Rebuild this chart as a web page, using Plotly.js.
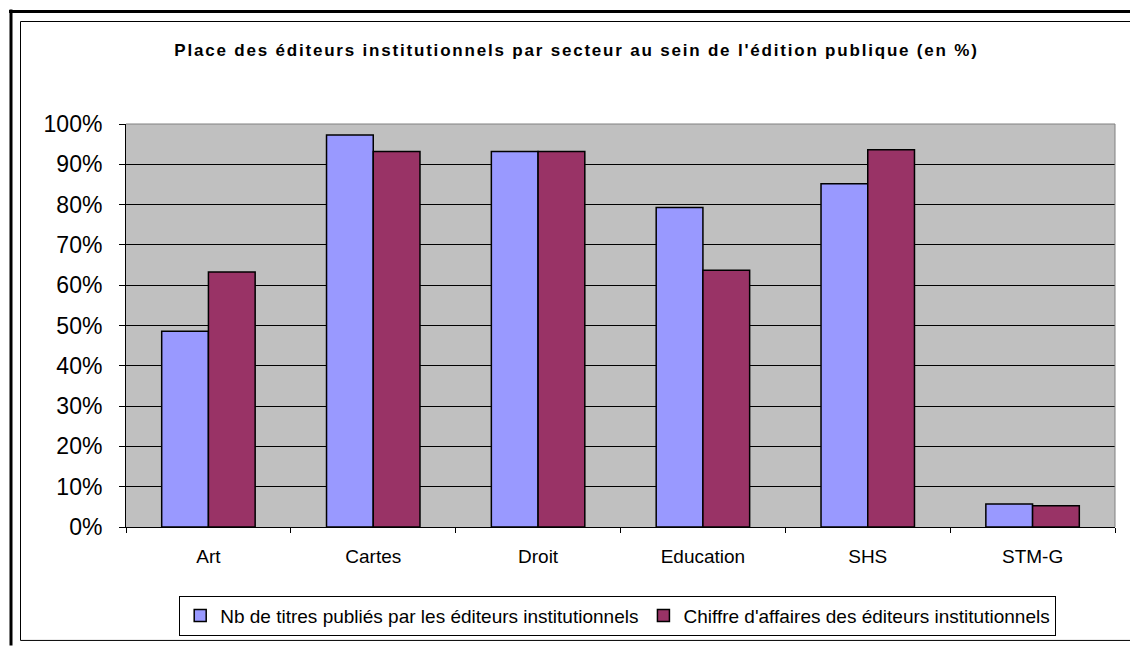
<!DOCTYPE html>
<html>
<head>
<meta charset="utf-8">
<script src="https://cdn.plot.ly/plotly-3.0.1.min.js"></script>
<style>
html, body { margin: 0; padding: 0; background: #ffffff; }
#chart { width: 1130px; height: 648px; }
#chart .gtitle { letter-spacing: 1.8px; }
</style>
</head>
<body>
<div id="chart"></div>
<script>
const categories = ["Art", "Cartes", "Droit", "Education", "SHS", "STM-G"];
const titresValues = [0.486, 0.973, 0.932, 0.793, 0.852, 0.057];
const caValues = [0.633, 0.932, 0.932, 0.637, 0.936, 0.053];
const seriesNames = [
  "Nb de titres publiés par les éditeurs institutionnels",
  "Chiffre d'affaires des éditeurs institutionnels"
];
const chartTitle = "Place des éditeurs institutionnels par secteur au sein de l'édition publique (en %)";

const W = 1130, H = 648;
const M = { l: 126, r: 15, t: 124, b: 119 };
const PW = W - M.l - M.r, PH = H - M.t - M.b;
const px = x => (x - M.l) / PW;
const py = y => (H - M.b - y) / PH;

const FONT = "Arial, 'Liberation Sans', sans-serif";

const traces = [
  {
    type: "bar", x: categories, y: titresValues, name: seriesNames[0],
    marker: { color: "#9999FF", line: { color: "#000000", width: 1.5 } },
    hoverinfo: "skip"
  },
  {
    type: "bar", x: categories, y: caValues, name: seriesNames[1],
    marker: { color: "#993366", line: { color: "#000000", width: 1.5 } },
    hoverinfo: "skip"
  }
];

const line = (x0, y0, x1, y1, w, c) => ({
  type: "line", xref: "paper", yref: "paper",
  x0: px(x0), y0: py(y0), x1: px(x1), y1: py(y1),
  line: { color: c, width: w }, layer: "above"
});

const layout = {
  width: W, height: H,
  margin: M,
  paper_bgcolor: "#ffffff",
  plot_bgcolor: "#C0C0C0",
  font: { family: FONT, color: "#000000" },
  showlegend: true,
  barmode: "group",
  bargap: 0.433,
  bargroupgap: 0,
  title: {
    text: "<b>" + chartTitle + "</b>",
    font: { family: FONT, size: 17, color: "#000000" },
    xref: "container", yref: "container",
    x: 576.5 / W, xanchor: "center",
    y: 1 - 50 / H, yanchor: "middle"
  },
  xaxis: {
    type: "category",
    showline: true, linecolor: "#000000", linewidth: 1,
    ticks: "outside", tickson: "boundaries", ticklen: 5, tickcolor: "#000000", tickwidth: 1,
    ticklabelstandoff: 12,
    tickfont: { family: FONT, size: 19, color: "#000000" },
    showgrid: false, zeroline: false, fixedrange: true
  },
  yaxis: {
    range: [0, 1], dtick: 0.1, tick0: 0, tickformat: ".0%",
    showline: true, linecolor: "#000000", linewidth: 1,
    ticks: "outside", ticklen: 6, tickcolor: "#000000", tickwidth: 1,
    ticklabelstandoff: 12,
    tickfont: { family: FONT, size: 23, color: "#000000" },
    showgrid: true, gridcolor: "#000000", gridwidth: 1,
    zeroline: false, fixedrange: true
  },
  legend: {
    orientation: "h",
    xref: "paper", yref: "paper",
    x: px(617.7), xanchor: "center",
    y: py(598), yanchor: "top",
    bgcolor: "#ffffff", bordercolor: "#000000", borderwidth: 1,
    font: { family: FONT, size: 19, color: "#000000" },
    itemwidth: 30,
    traceorder: "normal"
  },
  shapes: [
    // plot area top and right borders (grey)
    line(126, 124, 1115, 124, 1, "#808080"),
    line(1115, 124, 1115, 529, 1, "#808080"),
    // outer thick frame
    line(9, 11, 1130, 11, 3, "#000000"),
    line(11, 9, 11, 648, 3, "#000000"),
    // inner thin frame
    line(20.5, 21, 1130, 21, 1, "#000000"),
    line(20.5, 21, 20.5, 643, 1, "#000000"),
    line(20.5, 643, 1130, 643, 1, "#000000")
  ]
};

Plotly.newPlot("chart", traces, layout, { staticPlot: true, displayModeBar: false });
</script>
</body>
</html>
